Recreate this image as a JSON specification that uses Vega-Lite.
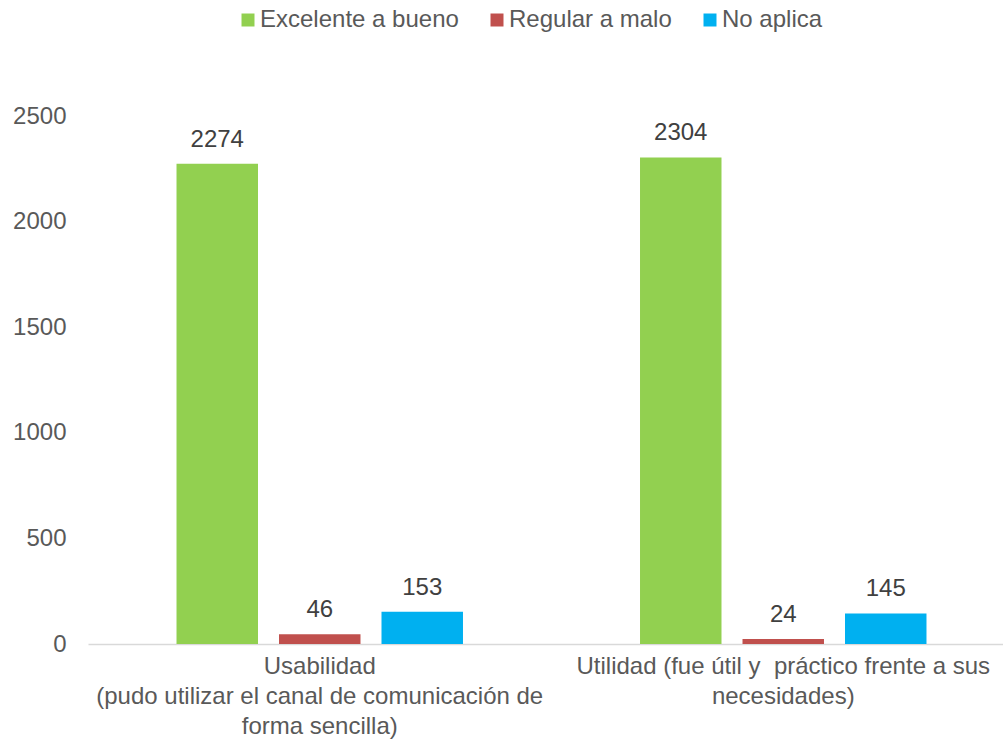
{
  "$schema": "https://vega.github.io/schema/vega-lite/v6.json",
  "width": 915,
  "height": 528,
  "autosize": {"type": "none"},
  "padding": {"left": 88, "top": 116, "right": 0, "bottom": 95},
  "background": "white",
  "config": {
    "view": {"stroke": null},
    "font": "Liberation Sans"
  },
  "data": {
    "values": [
      {"categoria": "Usabilidad (pudo utilizar el canal de comunicación de forma sencilla)", "serie": "Excelente a bueno", "valor": 2274},
      {"categoria": "Usabilidad (pudo utilizar el canal de comunicación de forma sencilla)", "serie": "Regular a malo", "valor": 46},
      {"categoria": "Usabilidad (pudo utilizar el canal de comunicación de forma sencilla)", "serie": "No aplica", "valor": 153},
      {"categoria": "Utilidad (fue útil y  práctico frente a sus necesidades)", "serie": "Excelente a bueno", "valor": 2304},
      {"categoria": "Utilidad (fue útil y  práctico frente a sus necesidades)", "serie": "Regular a malo", "valor": 24},
      {"categoria": "Utilidad (fue útil y  práctico frente a sus necesidades)", "serie": "No aplica", "valor": 145}
    ]
  },
  "encoding": {
    "x": {
      "field": "categoria",
      "type": "nominal",
      "sort": null,
      "scale": {"range": [0, 927], "paddingInner": 0.3366, "paddingOuter": 0.1683},
      "axis": {
        "title": null,
        "labelAngle": 0,
        "ticks": false,
        "domainColor": "#D9D9D9",
        "domainWidth": 1.5,
        "labelFontSize": 24,
        "labelColor": "#595959",
        "labelPadding": 10,
        "labelLineHeight": 30,
        "labelLimit": 0,
        "labelExpr": "indexof(datum.label, 'Usabilidad') == 0 ? ['Usabilidad', '(pudo utilizar el canal de comunicación de', 'forma sencilla)'] : ['Utilidad (fue útil y\u00a0 práctico frente a sus', 'necesidades)']"
      }
    },
    "xOffset": {
      "field": "serie",
      "type": "nominal",
      "sort": ["Excelente a bueno", "Regular a malo", "No aplica"],
      "scale": {"paddingInner": 0.205, "paddingOuter": 0.1025}
    },
    "y": {
      "field": "valor",
      "type": "quantitative",
      "scale": {"domain": [0, 2500], "nice": false},
      "axis": {
        "title": null,
        "values": [0, 500, 1000, 1500, 2000, 2500],
        "format": "d",
        "grid": false,
        "domain": false,
        "ticks": false,
        "labelFontSize": 24,
        "labelColor": "#595959",
        "labelPadding": 22
      }
    }
  },
  "layer": [
    {
      "mark": {"type": "bar"},
      "encoding": {
        "color": {
          "field": "serie",
          "type": "nominal",
          "sort": ["Excelente a bueno", "Regular a malo", "No aplica"],
          "scale": {"domain": ["Excelente a bueno", "Regular a malo", "No aplica"], "range": ["#92D050", "#C0504D", "#00B0F0"]},
          "legend": {
            "title": null,
            "orient": "none",
            "direction": "horizontal",
            "legendX": 148,
            "legendY": -108,
            "symbolType": "square",
            "symbolSize": 169,
            "symbolStrokeWidth": 0,
            "symbolOpacity": 1,
            "labelFontSize": 24,
            "labelColor": "#595959",
            "labelOffset": 0,
            "columnPadding": 26,
            "labelLimit": 0
          }
        }
      }
    },
    {
      "mark": {"type": "text", "baseline": "bottom", "dy": -12, "fontSize": 24, "color": "#404040"},
      "encoding": {
        "text": {"field": "valor", "type": "quantitative"}
      }
    }
  ]
}
